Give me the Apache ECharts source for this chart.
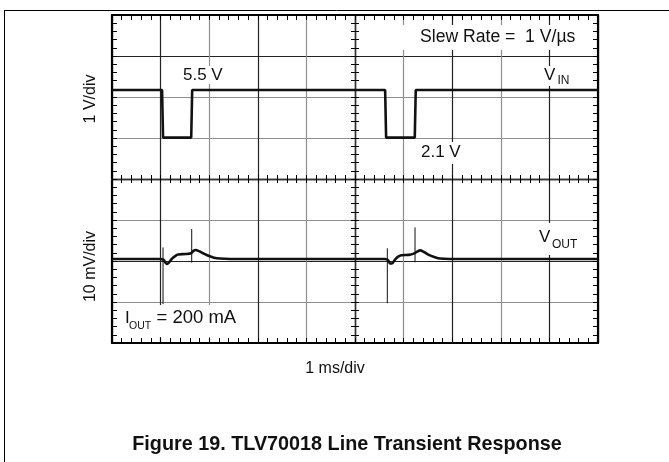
<!DOCTYPE html>
<html><head><meta charset="utf-8">
<script src="https://cdn.jsdelivr.net/npm/echarts@6/dist/echarts.min.js"></script>
<style>html,body{margin:0;padding:0;background:#fff}#c{width:669px;height:462px}</style>
</head><body><div id="c"></div>
<script>
// Time relative to the screen centre (ms, 1 ms/div); vertical values in screen divisions
const vinTime = [-5, -3.97, -3.95, -3.37, -3.35, 0.62, 0.64, 1.23, 1.25, 5];
const vinDiv  = [2.17, 2.17, 1.01, 1.01, 2.17, 2.17, 1.01, 1.01, 2.17, 2.17];

const voutTime = [-5, -4.01, -3.94, -3.90, -3.87, -3.83, -3.77, -3.70, -3.64, -3.48, -3.37, -3.33, -3.28, -3.21, -3.11, -3.00, -2.90, -2.78, -2.57,
                  0.62, 0.68, 0.72, 0.76, 0.82, 0.88, 0.95, 1.11, 1.21, 1.28, 1.34, 1.42, 1.52, 1.63, 1.75, 1.95, 5];
const voutDiv  = [-1.95, -1.95, -1.97, -2.04, -2.07, -2.04, -1.95, -1.88, -1.84, -1.83, -1.81, -1.76, -1.73, -1.76, -1.82, -1.88, -1.92, -1.94, -1.95,
                  -1.95, -1.98, -2.06, -2.06, -1.97, -1.90, -1.86, -1.85, -1.82, -1.77, -1.74, -1.78, -1.85, -1.90, -1.94, -1.95, -1.95];

const spikeTime   = [-3.95, -3.36, 0.665, 1.235];
const spikeTop    = [-1.67, -1.22, -1.69, -1.18];
const spikeBottom = [-3.05, -2.04, -3.03, -2.03];

const xGridColors = ['#000', '#222', '#8f8f8f', '#222', '#8f8f8f', '#222', '#8f8f8f', '#222', '#8f8f8f', '#222', '#000'];
const yGridColors = ['#000', '#8f8f8f', '#222', '#8f8f8f', '#222', '#8f8f8f', '#8f8f8f', '#222', '#000'];

const FONT = '"Liberation Sans", Arial, sans-serif';

function axisBase(min, max) {
  return { type: 'value', min: min, max: max, interval: 1, axisLabel: { show: false } };
}
function border(min, max, pos, colors) {
  return Object.assign(axisBase(min, max), {
    position: pos,
    axisLine: { show: true, onZero: false, lineStyle: { color: '#000', width: 2.2 } },
    axisTick: { show: true, inside: true, length: 5, lineStyle: { color: '#000', width: 1 } },
    minorTick: { show: true, splitNumber: 5, length: 5, lineStyle: { color: '#000', width: 1 } },
    splitLine: colors ? { show: true, lineStyle: { color: colors, width: 1.2 } } : { show: false },
    minorSplitLine: { show: false }
  });
}
function centre(min, max, pos) {
  return Object.assign(axisBase(min, max), {
    position: pos,
    axisLine: { show: true, onZero: true, onZeroAxisIndex: 0, lineStyle: { color: '#333', width: 1.3 } },
    axisTick: { show: true, inside: true, length: 4, lineStyle: { color: '#000', width: 1 } },
    minorTick: { show: true, splitNumber: 5, length: 4, lineStyle: { color: '#000', width: 1 } },
    splitLine: { show: false }
  });
}

const series = [
  { type: 'line', xAxisIndex: 0, yAxisIndex: 0, data: vinTime.map((t, i) => [t, vinDiv[i]]),
    showSymbol: false, lineStyle: { color: '#111', width: 2.6 }, z: 5 },
  { type: 'line', xAxisIndex: 0, yAxisIndex: 0, data: voutTime.map((t, i) => [t, voutDiv[i]]),
    showSymbol: false, smooth: 0.3, lineStyle: { color: '#111', width: 2.6 }, z: 5 }
];
spikeTime.forEach((t, i) => {
  series.push({ type: 'line', xAxisIndex: 0, yAxisIndex: 0, data: [[t, spikeTop[i]], [t, spikeBottom[i]]],
    showSymbol: false, lineStyle: { color: '#111', width: 1 }, z: 4 });
});

function txt(text, x, y, size, opts) {
  return {
    type: 'text', x: x, y: y, silent: true, z: 20,
    style: Object.assign({ text: text, font: size + 'px ' + FONT, fill: '#111', textAlign: 'left', textVerticalAlign: 'middle' }, opts || {})
  };
}
function box(x1, y1, x2, y2) {
  return { type: 'rect', silent: true, z: 10, shape: { x: x1, y: y1, width: x2 - x1, height: y2 - y1 }, style: { fill: '#fff' } };
}

const chart = echarts.init(document.getElementById('c'), null, { renderer: 'canvas' });
chart.setOption({
  animation: false,
  backgroundColor: '#fff',
  grid: { left: 112, right: 71, top: 15, bottom: 119 },
  xAxis: [border(-5, 5, 'bottom', xGridColors), border(-5, 5, 'top', null), centre(-5, 5, 'bottom'), centre(-5, 5, 'top')],
  yAxis: [border(-4, 4, 'left', yGridColors), border(-4, 4, 'right', null), centre(-4, 4, 'left'), centre(-4, 4, 'right')],
  series: series,
  graphic: [
    { type: 'line', silent: true, shape: { x1: 4.5, y1: 10, x2: 4.5, y2: 462 }, style: { stroke: '#000', lineWidth: 1 } },
    { type: 'line', silent: true, shape: { x1: 4, y1: 10.5, x2: 669, y2: 10.5 }, style: { stroke: '#000', lineWidth: 1 } },
    box(400, 25, 591, 50),
    box(178, 66, 227, 84),
    box(540, 66, 578, 86),
    box(416, 142, 466, 164),
    box(535, 223, 584, 255),
    box(119, 305, 247, 337),
    txt('Slew Rate =  1 V/\u00b5s', 420, 37, 17.6),
    txt('5.5 V', 183, 75, 17),
    txt('2.1 V', 421, 152.5, 17),
    txt('V', 544, 75.5, 17),
    txt('IN', 557.5, 80.5, 12),
    txt('V', 539, 237.5, 17),
    txt('OUT', 552, 245, 12),
    txt('I', 125, 318, 17),
    txt('OUT', 129, 326, 10.5),
    txt('= 200 mA', 156.5, 318, 18.5),
    txt('1 ms/div', 335, 369, 16, { textAlign: 'center' }),
    txt('Figure 19. TLV70018 Line Transient Response', 347, 445, 19.8, { textAlign: 'center', font: 'bold 19.8px ' + FONT }),
    Object.assign(txt('1 V/div', 91, 99, 16, { textAlign: 'center' }), { rotation: Math.PI / 2 }),
    Object.assign(txt('10 mV/div', 91, 266.5, 16, { textAlign: 'center' }), { rotation: Math.PI / 2 })
  ]
});
</script>
</body></html>
